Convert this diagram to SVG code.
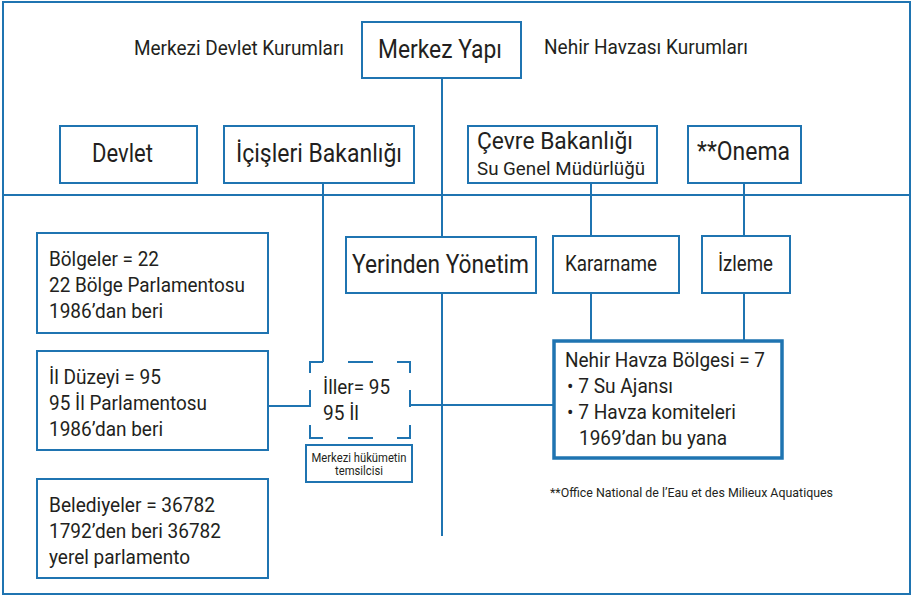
<svg xmlns="http://www.w3.org/2000/svg" width="913" height="598" viewBox="0 0 913 598">
<style>
  .bx{fill:#fff;stroke:#1f74b1;stroke-width:2}
  .thick{fill:#fff;stroke:#1f74b1;stroke-width:3.5}
  .ln{fill:none;stroke:#1f74b1;stroke-width:2}
  text{font-family:Roboto,"Liberation Sans",sans-serif;fill:#231f20}
</style>
<rect width="913" height="598" fill="#fff"/>
<g id="frame">
  <rect class="ln" x="3" y="2" width="907" height="592"/>
  <line class="ln" x1="3" y1="195" x2="910" y2="195"/>
</g>
<g id="connectors">
  <line class="ln" x1="442" y1="78" x2="442" y2="536"/>
  <line class="ln" x1="323" y1="183" x2="323" y2="362"/>
  <line class="ln" x1="591" y1="183" x2="591" y2="236"/>
  <line class="ln" x1="744" y1="183" x2="744" y2="236"/>
  <line class="ln" x1="591" y1="293" x2="591" y2="340"/>
  <line class="ln" x1="744" y1="293" x2="744" y2="340"/>
  <line class="ln" x1="268" y1="406" x2="310" y2="406"/>
  <line class="ln" x1="410" y1="405" x2="553" y2="405"/>
</g>
<g id="label-merkezi">
  <text x="134" y="55" font-size="20" textLength="210" lengthAdjust="spacingAndGlyphs">Merkezi Devlet Kurumları</text>
</g>
<g id="label-nehir">
  <text x="544" y="54" font-size="20" textLength="204" lengthAdjust="spacingAndGlyphs">Nehir Havzası Kurumları</text>
</g>
<g id="merkez-yapi">
  <rect class="bx" x="362" y="22" width="159" height="56"/>
  <text x="378" y="58" font-size="26" textLength="124" lengthAdjust="spacingAndGlyphs">Merkez Yapı</text>
</g>
<g id="devlet">
  <rect class="bx" x="60" y="126" width="137" height="57"/>
  <text x="92" y="162" font-size="25" textLength="61" lengthAdjust="spacingAndGlyphs">Devlet</text>
</g>
<g id="icisleri">
  <rect class="bx" x="224" y="126" width="190" height="57"/>
  <text x="236" y="162" font-size="25" textLength="166" lengthAdjust="spacingAndGlyphs">İçişleri Bakanlığı</text>
</g>
<g id="cevre">
  <rect class="bx" x="468" y="126" width="189" height="57"/>
  <text x="477" y="149" font-size="24" textLength="156" lengthAdjust="spacingAndGlyphs">Çevre Bakanlığı</text>
  <text x="477" y="175" font-size="19" textLength="168" lengthAdjust="spacingAndGlyphs">Su Genel Müdürlüğü</text>
</g>
<g id="onema">
  <rect class="bx" x="688" y="126" width="113" height="57"/>
  <text x="697" y="160" font-size="25" textLength="93" lengthAdjust="spacingAndGlyphs">**Onema</text>
</g>
<g id="bolgeler">
  <rect class="bx" x="37" y="233" width="231" height="100"/>
  <text font-size="21" x="49">
    <tspan x="49" y="266" textLength="110" lengthAdjust="spacingAndGlyphs">Bölgeler = 22</tspan>
    <tspan x="49" y="292" textLength="196" lengthAdjust="spacingAndGlyphs">22 Bölge Parlamentosu</tspan>
    <tspan x="49" y="318" textLength="114" lengthAdjust="spacingAndGlyphs">1986’dan beri</tspan>
  </text>
</g>
<g id="il-duzeyi">
  <rect class="bx" x="37" y="351" width="231" height="99"/>
  <text font-size="21" x="49">
    <tspan x="49" y="384" textLength="112" lengthAdjust="spacingAndGlyphs">İl Düzeyi = 95</tspan>
    <tspan x="49" y="410" textLength="158" lengthAdjust="spacingAndGlyphs">95 İl Parlamentosu</tspan>
    <tspan x="49" y="436" textLength="114" lengthAdjust="spacingAndGlyphs">1986’dan beri</tspan>
  </text>
</g>
<g id="belediyeler">
  <rect class="bx" x="37" y="479" width="231" height="99"/>
  <text font-size="21" x="49">
    <tspan x="49" y="512" textLength="166" lengthAdjust="spacingAndGlyphs">Belediyeler = 36782</tspan>
    <tspan x="49" y="538" textLength="172" lengthAdjust="spacingAndGlyphs">1792’den beri 36782</tspan>
    <tspan x="49" y="564" textLength="141" lengthAdjust="spacingAndGlyphs">yerel parlamento</tspan>
  </text>
</g>
<g id="iller">
  <path class="ln" d="M310,373 V362 H323 M348,362 H373 M397,362 H410 V373 M310,390 V407 M410,390 V407 M310,425 V438 H323 M348,438 H373 M397,438 H410 V425"/>
  <text x="323" y="394" font-size="21" textLength="67" lengthAdjust="spacingAndGlyphs">İller= 95</text>
  <text x="323" y="420" font-size="21" textLength="36" lengthAdjust="spacingAndGlyphs">95 İl</text>
</g>
<g id="temsilci">
  <rect class="bx" x="306" y="445" width="106" height="37"/>
  <text x="359" y="462" font-size="12" text-anchor="middle" textLength="95" lengthAdjust="spacingAndGlyphs">Merkezi hükümetin</text>
  <text x="359" y="475" font-size="12" text-anchor="middle" textLength="48" lengthAdjust="spacingAndGlyphs">temsilcisi</text>
</g>
<g id="yerinden">
  <rect class="bx" x="346" y="237" width="190" height="56"/>
  <text x="352" y="273" font-size="25" textLength="177" lengthAdjust="spacingAndGlyphs">Yerinden Yönetim</text>
</g>
<g id="kararname">
  <rect class="bx" x="553" y="236" width="126" height="57"/>
  <text x="565" y="271" font-size="22" textLength="92" lengthAdjust="spacingAndGlyphs">Kararname</text>
</g>
<g id="izleme">
  <rect class="bx" x="702" y="236" width="88" height="57"/>
  <text x="718" y="271" font-size="22" textLength="55" lengthAdjust="spacingAndGlyphs">İzleme</text>
</g>
<g id="nehir-havza">
  <rect class="thick" x="554" y="341" width="228" height="117"/>
  <text font-size="21">
    <tspan x="565" y="367" textLength="200" lengthAdjust="spacingAndGlyphs">Nehir Havza Bölgesi = 7</tspan>
    <tspan x="567" y="393" textLength="106" lengthAdjust="spacingAndGlyphs">• 7 Su Ajansı</tspan>
    <tspan x="567" y="419" textLength="169" lengthAdjust="spacingAndGlyphs">• 7 Havza komiteleri</tspan>
    <tspan x="579" y="445" textLength="148" lengthAdjust="spacingAndGlyphs">1969’dan bu yana</tspan>
  </text>
</g>
<g id="footnote">
  <text x="550" y="497" font-size="13" textLength="283" lengthAdjust="spacingAndGlyphs">**Office National de l’Eau et des Milieux Aquatiques</text>
</g>
</svg>
